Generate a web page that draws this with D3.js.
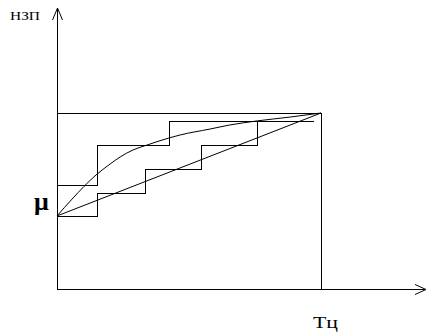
<!DOCTYPE html>
<html>
<head>
<meta charset="utf-8">
<script src="https://cdn.jsdelivr.net/npm/d3@7"></script>
<style>
  body { margin: 0; background: #fff; }
  text { font-family: "Liberation Serif", "Times New Roman", serif; fill: #000; }
</style>
</head>
<body>
<svg id="chart" width="426" height="336"></svg>
<script>
// units: x in % of Тц, y in % of the top of the box
var lowerSteps = [[0, 41.5], [15, 41.5], [15, 54.3], [33.5, 54.3], [33.5, 68.2], [54.5, 68.2], [54.5, 81.8], [75.8, 81.8], [75.8, 95.5]];
var upperSteps = [[0, 59.1], [15, 59.1], [15, 81.8], [42.4, 81.8], [42.4, 95.5], [97, 95.5]];
var curvePts = [[0, 41.5], [5.7, 51.1], [14.8, 64.8], [20.1, 71], [23.9, 75], [28.8, 79], [34.1, 81.8], [42.4, 85.8], [46.6, 87.5], [58, 90.9], [65.5, 93.2], [75.8, 95.5], [88.3, 97.7], [100, 100]];
var diagonal = [[0, 41.5], [100, 100]];
var boxTop = 100, cycleEnd = 100;
var labels = { y: "НЗП", x: "Тц", mu: "μ" };

var svg = d3.select("#chart");

var x = d3.scaleLinear().domain([0, 100]).range([57, 321]);
var y = d3.scaleLinear().domain([0, 100]).range([289, 113]);

var g = svg.append("g");

var line = d3.line()
  .x(function(d) { return x(d[0]); })
  .y(function(d) { return y(d[1]); });

function crisp(v) { return Math.round(v) + 0.5; }

var crispLine = d3.line()
  .x(function(d) { return crisp(x(d[0])); })
  .y(function(d) { return crisp(y(d[1])); });

// axes
var x0 = crisp(x(0)), y0 = crisp(y(0));
g.append("line").attr("x1", x0).attr("y1", 8).attr("x2", x0).attr("y2", y0)
  .attr("stroke", "#000").attr("shape-rendering", "crispEdges");
g.append("line").attr("x1", x0).attr("y1", y0).attr("x2", 425).attr("y2", y0)
  .attr("stroke", "#000").attr("shape-rendering", "crispEdges");

// arrow heads (open)
g.append("path").attr("d", "M" + (x0 - 5) + ",20 L" + x0 + ",8 L" + (x0 + 5) + ",20")
  .attr("fill", "none").attr("stroke", "#000");
g.append("path").attr("d", "M415," + (y0 - 5) + " L426," + y0 + " L415," + (y0 + 5))
  .attr("fill", "none").attr("stroke", "#000");

// box
g.append("path")
  .attr("d", crispLine([[0, boxTop], [cycleEnd, boxTop], [cycleEnd, 0]]))
  .attr("fill", "none").attr("stroke", "#000").attr("shape-rendering", "crispEdges");

// staircases
[lowerSteps, upperSteps].forEach(function(s) {
  g.append("path")
    .attr("d", crispLine(s))
    .attr("fill", "none").attr("stroke", "#000").attr("shape-rendering", "crispEdges");
});

// straight line and curve
g.append("path").attr("d", line(diagonal))
  .attr("fill", "none").attr("stroke", "#000").attr("stroke-width", 1);
g.append("path").attr("d", line.curve(d3.curveMonotoneX)(curvePts))
  .attr("fill", "none").attr("stroke", "#000").attr("stroke-width", 1);

// labels
svg.append("text").attr("x", 10).attr("y", 20)
  .attr("font-size", 12).attr("textLength", 30).attr("lengthAdjust", "spacingAndGlyphs")
  .text(labels.y);
svg.append("text").attr("x", 34).attr("y", 210)
  .attr("font-size", 26).attr("font-weight", "bold")
  .text(labels.mu);
svg.append("text").attr("x", 313).attr("y", 328)
  .attr("font-size", 17).attr("textLength", 25).attr("lengthAdjust", "spacingAndGlyphs")
  .text(labels.x);
</script>
</body>
</html>
